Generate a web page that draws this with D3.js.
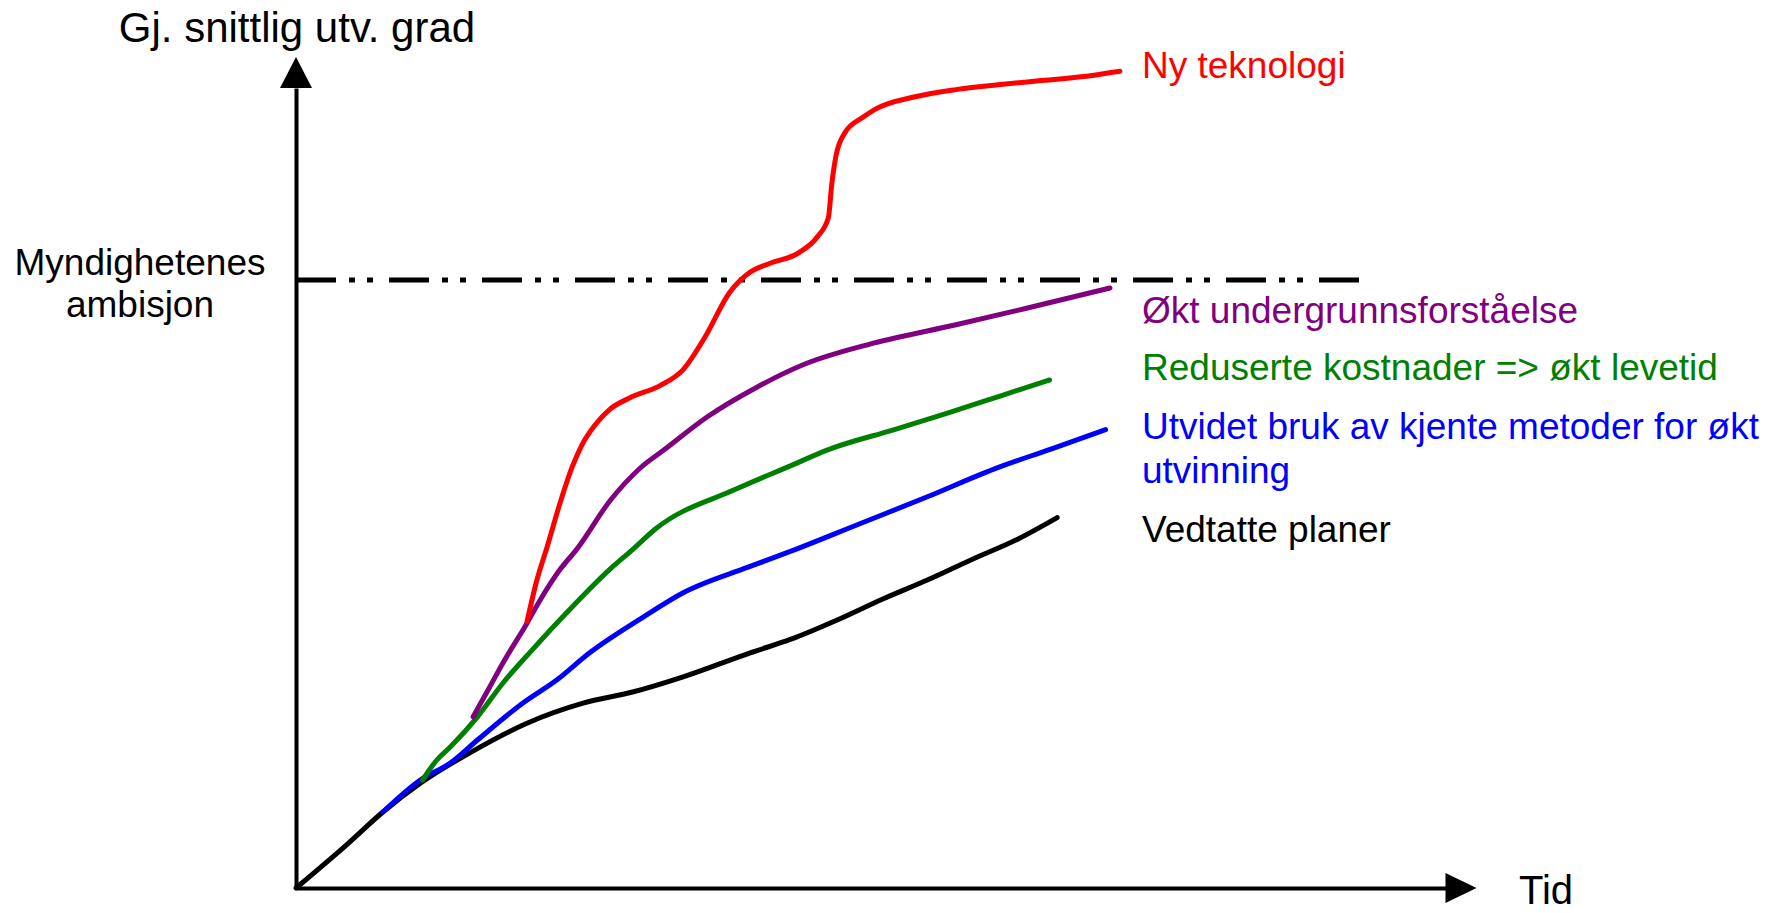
<!DOCTYPE html>
<html>
<head>
<meta charset="utf-8">
<script src="https://cdn.jsdelivr.net/npm/d3@7"></script>
<style>
  body { margin: 0; background: #fff; }
  text { font-family: Arial, "Liberation Sans", sans-serif; }
</style>
</head>
<body>
<div id="chart-area"></div>
<script>
// values (time 0-100, development grade 0-100)
const seriesNames = [
  "Ny teknologi",
  "Økt undergrunnsforståelse",
  "Reduserte kostnader => økt levetid",
  "Utvidet bruk av kjente metoder for økt|utvinning",
  "Vedtatte planer"
];
const seriesColors = ["#ff0000", "#800080", "#008000", "#0000ff", "#000000"];

const vedtatte = [
  [0, 0], [4.6, 5.4], [7.9, 9.5], [11.3, 13.1], [15.8, 16.9], [21.0, 20.6],
  [26.1, 23.1], [30.6, 24.5], [35.2, 26.4], [41.3, 29.4], [45.0, 31.1],
  [49.2, 33.5], [53.3, 36.1], [57.4, 38.5], [61.5, 41.1], [65.6, 43.6], [69.2, 46.3]
];
const utvidet = [
  [7.9, 9.5], [11.3, 13.5], [14.0, 15.6], [16.5, 18.5], [20.6, 23.1], [23.7, 26.0],
  [26.7, 29.4], [31.5, 33.8], [35.2, 36.9], [41.1, 40.1], [45.0, 42.1],
  [51.2, 45.5], [57.4, 48.9], [63.5, 52.4], [68.7, 54.9], [73.6, 57.3]
];
const reduserte = [
  [11.5, 13.5], [12.8, 16.0], [14.0, 17.6], [16.5, 21.4], [18.8, 25.6], [21.5, 29.8],
  [24.6, 34.4], [28.5, 39.8], [30.6, 42.3], [32.7, 44.9], [39.9, 49.8], [45.0, 52.8],
  [48.4, 54.8], [54.4, 57.3], [59.3, 59.4], [63.8, 61.4], [68.5, 63.5]
];
const undergrunn = [
  [16.1, 21.4], [17.6, 25.1], [18.8, 28.1], [21.0, 33.1], [22.2, 36.0], [24.0, 39.8],
  [25.5, 42.3], [28.6, 48.5], [31.3, 52.5], [33.5, 54.8], [37.4, 58.9], [41.9, 62.6],
  [46.1, 65.4], [52.5, 68.1], [60.0, 70.4], [66.5, 72.5], [74.0, 75.0]
];
const nyTeknologi = [
  [21.0, 33.3], [21.9, 38.5], [22.8, 42.5], [24.0, 48.1], [25.1, 52.6], [26.0, 55.4],
  [27.2, 57.9], [28.5, 59.8], [30.4, 61.3], [33.1, 62.8], [35.2, 64.8], [37.2, 68.9],
  [39.4, 74.4], [41.3, 77.0], [43.1, 78.1], [45.7, 79.4], [47.4, 81.4], [48.4, 83.8],
  [48.7, 87.9], [49.1, 91.6], [49.9, 94.4], [51.5, 96.3], [52.6, 97.3], [56.3, 98.9],
  [60.0, 99.8], [63.8, 100.4], [67.5, 100.9], [71.4, 101.4], [74.9, 102.1]
];
const seriesValues = [nyTeknologi, undergrunn, reduserte, utvidet, vedtatte];

const ambisjon = 76;
const ambisjonEnd = 97.5;
const xAxisEnd = 104.5;

const drawChart = () => {
  const chartSize = { width: 1773, height: 913 };
  const origin = { x: 296, y: 888 };

  const x = d3.scaleLinear().domain([0, 100]).range([origin.x, origin.x + 1100]);
  const y = d3.scaleLinear().domain([0, 100]).range([origin.y, origin.y - 800]);

  const svg = d3.select("#chart-area")
    .append("svg")
    .attr("width", chartSize.width)
    .attr("height", chartSize.height);

  // ambition line
  svg.append("line")
    .attr("x1", x(0))
    .attr("x2", x(ambisjonEnd))
    .attr("y1", y(ambisjon))
    .attr("y2", y(ambisjon))
    .attr("stroke", "#000")
    .attr("stroke-width", 5)
    .attr("stroke-dasharray", "40,13,6,12,6,16");

  const line = d3.line()
    .x(d => x(d[0]))
    .y(d => y(d[1]))
    .curve(d3.curveMonotoneX);

  // draw bottom series first so red ends up on top
  const order = [4, 3, 2, 1, 0];
  svg.selectAll("path.series")
    .data(order)
    .enter()
    .append("path")
    .attr("class", "series")
    .attr("d", i => line(seriesValues[i]))
    .attr("fill", "none")
    .attr("stroke", i => seriesColors[i])
    .attr("stroke-width", 5)
    .attr("stroke-linecap", "round")
    .attr("stroke-linejoin", "round");

  // axes without ticks
  const yAxis = d3.axisLeft(y).tickValues([]).tickSizeOuter(0);
  const xAxis = d3.axisBottom(x.copy().domain([0, xAxisEnd]).range([x(0), x(xAxisEnd)]))
    .tickValues([]).tickSizeOuter(0);

  svg.append("g")
    .attr("transform", `translate(${origin.x}, 0)`)
    .call(yAxis)
    .select(".domain")
    .attr("stroke-width", 4);

  svg.append("g")
    .attr("transform", `translate(0, ${origin.y})`)
    .call(xAxis)
    .select(".domain")
    .attr("stroke-width", 4);

  // arrow heads
  const yTop = y(100);
  svg.append("path")
    .attr("d", `M${origin.x},${yTop - 31}L${origin.x - 16},${yTop}L${origin.x + 16},${yTop}Z`)
    .attr("fill", "#000");
  const xEnd = x(xAxisEnd);
  svg.append("path")
    .attr("d", `M${xEnd + 31},${origin.y}L${xEnd},${origin.y - 15}L${xEnd},${origin.y + 15}Z`)
    .attr("fill", "#000");

  // axis titles
  svg.append("text")
    .attr("x", origin.x + 1)
    .attr("y", 42)
    .attr("text-anchor", "middle")
    .attr("font-size", 42)
    .text("Gj. snittlig utv. grad");

  svg.append("text")
    .attr("x", 1519)
    .attr("y", 904)
    .attr("font-size", 40)
    .text("Tid");

  const amb = svg.append("text")
    .attr("text-anchor", "middle")
    .attr("font-size", 37);
  amb.append("tspan").attr("x", 140).attr("y", 275).text("Myndighetenes");
  amb.append("tspan").attr("x", 140).attr("y", 317).text("ambisjon");

  // series labels
  const labelY = [78, 323, 380, 439, 542];
  seriesNames.forEach((name, i) => {
    const t = svg.append("text")
      .attr("font-size", 37)
      .attr("fill", seriesColors[i]);
    name.split("|").forEach((part, j) => {
      t.append("tspan")
        .attr("x", 1142)
        .attr("y", labelY[i] + j * 44)
        .text(part);
    });
  });
};

window.onload = drawChart;
</script>
</body>
</html>
